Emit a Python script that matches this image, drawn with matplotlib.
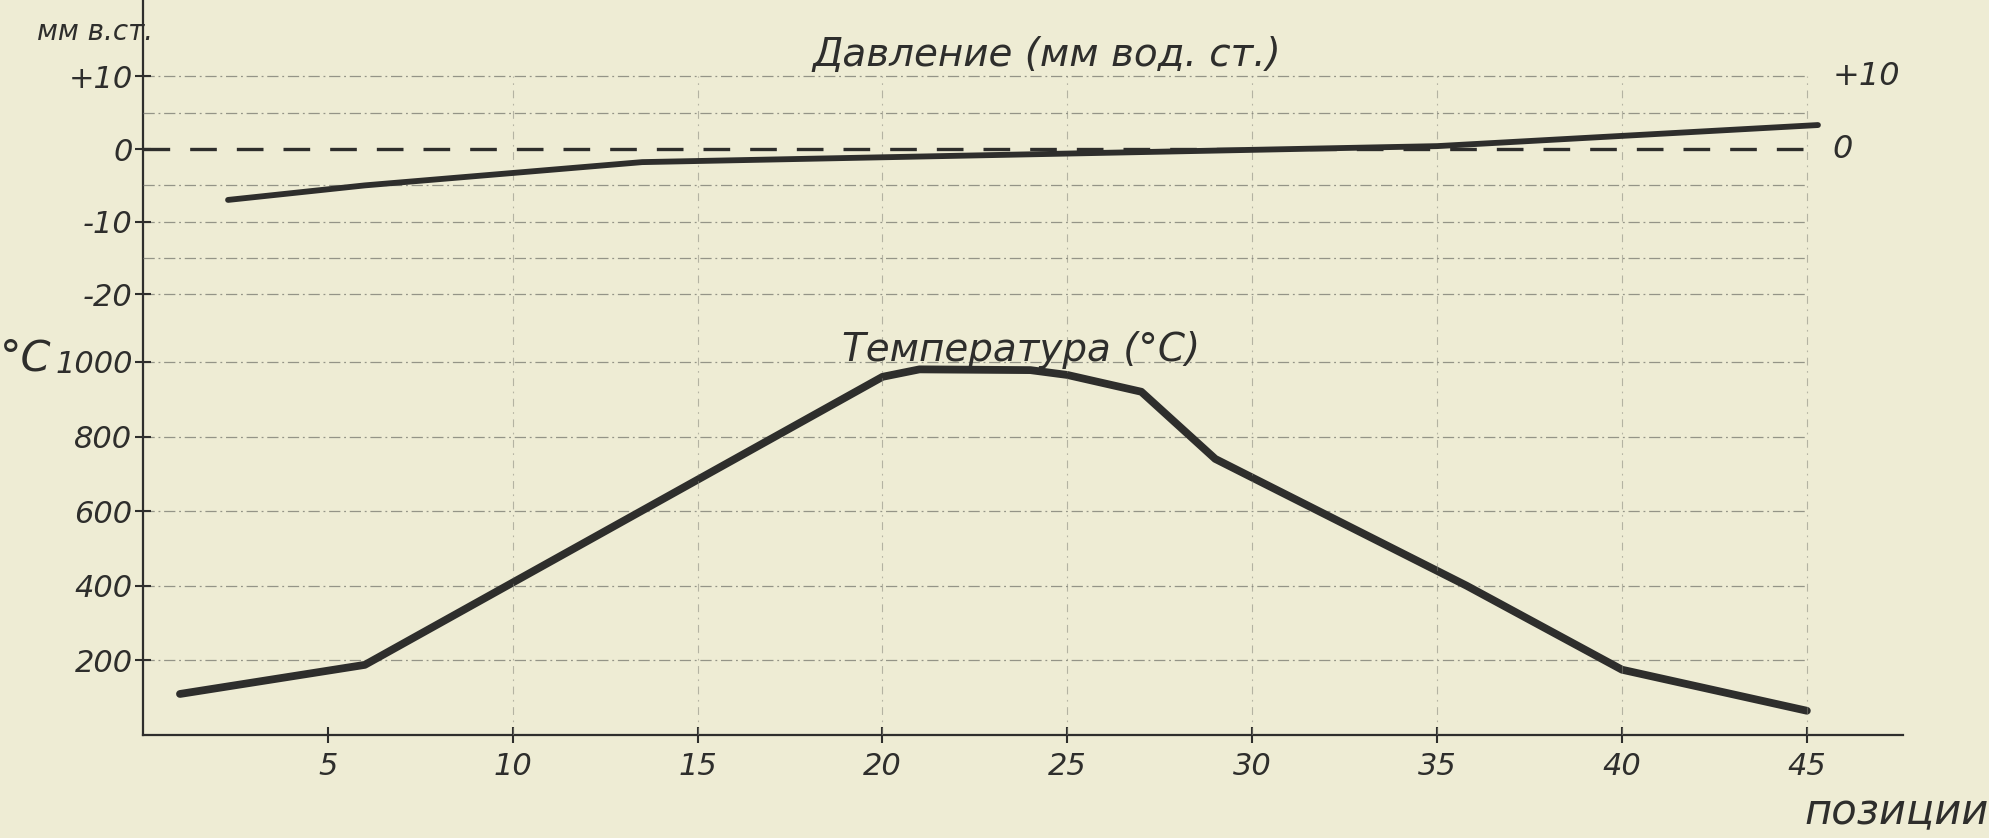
import matplotlib
matplotlib.use("Agg")
import matplotlib.pyplot as plt

# ---------------- data ----------------
temp_x = [1, 6, 20, 21, 24, 25, 27, 29, 35.8, 40, 45]
temp_y = [110, 188, 960, 980, 978, 965, 920, 740, 400, 175, 65]

press_x = [2.3, 6, 13.5, 35, 45.3]
press_y = [-7.0, -5.0, -1.8, 0.4, 3.3]

x_ticks = [5, 10, 15, 20, 25, 30, 35, 40, 45]
x_ticklabels = ["5", "10", "15", "20", "25", "30", "35", "40", "45"]
temp_ticks = [200, 400, 600, 800, 1000]
temp_ticklabels = ["200", "400", "600", "800", "1000"]
press_ticks = [-20, -10, 0, 10]
press_ticklabels = ["-20", "-10", "0", "+10"]
press_grid = [-20, -15, -10, -5, 5, 10]
vert_grid = [10, 15, 20, 25, 30, 35, 40, 45]

title_press = "Давление (мм вод. ст.)"
title_temp = "Температура (°C)"
press_unit = "мм в.ст."
temp_unit = "°C"
x_label = "позиции"

# ---------------- style ----------------
BG = "#eeecd4"
INK = "#2e2e2c"
GRID = "#85857a"
W, H = 1990, 838
FAM = ["DejaVu Sans"]

fig = plt.figure(figsize=(W / 100, H / 100), dpi=100, facecolor=BG)
x0_px, xaxis_px, xmax = 143, 735, 47.6
ax = fig.add_axes([x0_px / W, (H - xaxis_px) / H, (1903 - x0_px) / W, xaxis_px / H])
ax.set_facecolor(BG)
ax.set_xlim(0, xmax)
ax.set_ylim(0, 1970)

ax2 = ax.twinx()
ax2.set_ylim(-80.6, 20.5)
ax2.patch.set_visible(False)

for s in ["top", "right"]:
    ax.spines[s].set_visible(False)
for s in ax2.spines.values():
    s.set_visible(False)
for s in ["left", "bottom"]:
    ax.spines[s].set_color(INK)
    ax.spines[s].set_linewidth(1.6)

# grids
ax.hlines(temp_ticks, 0, 45, colors=GRID, linewidth=0.9, linestyles=(0, (9, 3, 1.5, 3)),
          alpha=0.85, zorder=1)
ax2.hlines(press_grid, 0, 45, colors=GRID, linewidth=0.9, linestyles=(0, (9, 3, 1.5, 3)),
           alpha=0.85, zorder=1)
ax2.vlines(vert_grid, ax2.get_ylim()[0], 10, colors=GRID, linewidth=0.8,
           linestyles=(0, (7, 5, 1.5, 5)), alpha=0.55, zorder=1)
# zero pressure line
ax2.hlines([0], 0, 45, colors=INK, linewidth=2.4, linestyles=(0, (8, 6)), zorder=2)

# curves
ax.plot(temp_x, temp_y, color=INK, linewidth=5.6, solid_capstyle="round",
        solid_joinstyle="round", zorder=3)
ax2.plot(press_x, press_y, color=INK, linewidth=4.2, solid_capstyle="round",
         solid_joinstyle="round", zorder=3)

# ticks
tick_kw = dict(direction="inout", length=11, width=1.5, colors=INK, labelsize=22)
ax.set_xticks(x_ticks)
ax.set_xticklabels(x_ticklabels, family=FAM, style="italic")
ax.tick_params(axis="x", pad=7, **tick_kw)
ax.set_yticks(temp_ticks)
ax.set_yticklabels(temp_ticklabels, family=FAM, style="italic")
ax.tick_params(axis="y", pad=2, **tick_kw)

ax2.set_yticks(press_ticks)
ax2.set_yticklabels(press_ticklabels, family=FAM, style="italic")
ax2.tick_params(axis="y", left=True, labelleft=True, right=False, labelright=False,
                pad=2, **tick_kw)

# right side pressure labels
ax2.text(45.7, 10, "+10", fontsize=23, family=FAM, style="italic", color=INK,
         ha="left", va="center")
ax2.text(45.7, 0, "0", fontsize=23, family=FAM, style="italic", color=INK,
         ha="left", va="center")

def ftext(px, py, s, size, **kw):
    fig.text(px / W, 1 - py / H, s, fontsize=size, family=FAM, style="italic",
             color=INK, **kw)

ftext(1047, 55, title_press, 28, ha="center", va="center")
ftext(1021, 350, title_temp, 28, ha="center", va="center")
ftext(95, 32, press_unit, 20, ha="center", va="center")
ftext(26, 358, temp_unit, 31, ha="center", va="center")
ftext(1897, 812, x_label, 30, ha="center", va="center")

fig.savefig("out.png", dpi=100, facecolor=BG)
